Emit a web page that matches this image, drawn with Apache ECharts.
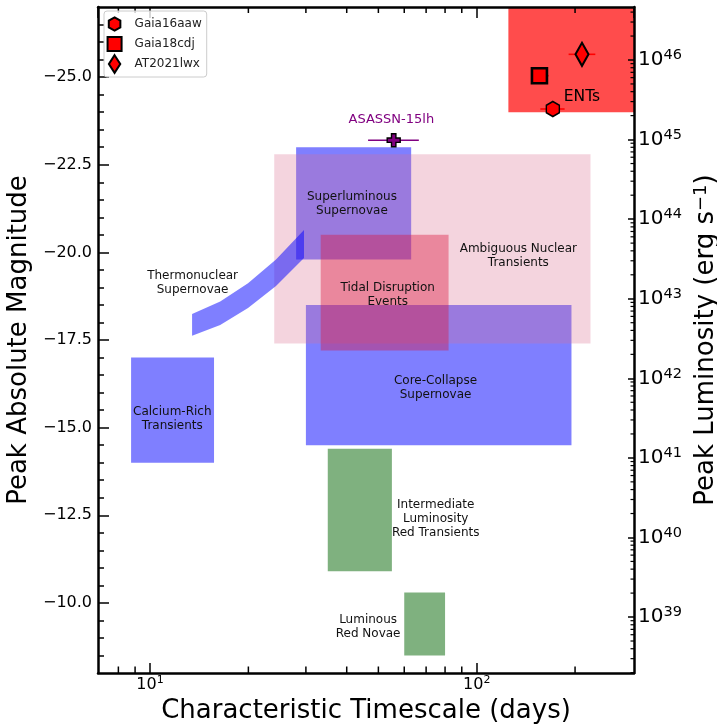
<!DOCTYPE html>
<html><head><meta charset="utf-8">
<script src="https://cdn.jsdelivr.net/npm/echarts@6/dist/echarts.min.js"></script>
<style>html,body{margin:0;padding:0;background:#fff}#c{width:717px;height:728px}</style>
</head><body><div id="c"></div>
<script>
// ---------------- data ----------------
// rectangular regions (characteristic timescale in days, peak absolute magnitude)
const regionNames = ['Calcium-Rich Transients', 'Superluminous Supernovae', 'Core-Collapse Supernovae',
  'Ambiguous Nuclear Transients', 'Tidal Disruption Events', 'Intermediate Luminosity Red Transients',
  'Luminous Red Novae', 'ENTs'];
const regionTimeMin = [8.75, 28, 30, 24, 33.3, 35, 60, 125];
const regionTimeMax = [15.7, 63, 195, 223, 82, 55, 80, 303];
const regionMagBright = [-17.0, -23.0, -18.5, -22.8, -20.5, -14.4, -10.3, -27.0];
const regionMagFaint = [-14.0, -19.8, -14.5, -17.4, -17.2, -10.9, -8.5, -24.0];

// thermonuclear supernovae band
const snIaTime = [13.45, 16.4, 19.95, 24.3, 29.6];
const snIaMagBright = [-18.24, -18.60, -19.12, -19.80, -20.64];
const snIaMagFaint = [-17.62, -17.93, -18.41, -19.04, -19.84];

// region labels
const labelTexts = ['Calcium-Rich\nTransients', 'Superluminous\nSupernovae', 'Core-Collapse\nSupernovae',
  'Ambiguous Nuclear\nTransients', 'Thermonuclear\nSupernovae', 'Tidal Disruption\nEvents',
  'Intermediate\nLuminosity\nRed Transients', 'Luminous\nRed Novae'];
const labelTime = [11.7, 41.5, 74.8, 134.1, 13.5, 53.4, 74.9, 46.5];
const labelMag = [-15.25, -21.38, -16.13, -19.90, -19.13, -18.80, -12.40, -9.33];

// ENT objects
const objectNames = ['Gaia16aaw', 'Gaia18cdj', 'AT2021lwx'];
const objectTime = [171.0, 155.6, 210.0];
const objectTimeLow = [156.6, 147.7, 191.1];
const objectTimeHigh = [185.8, 166.0, 230.7];
const objectMag = [-24.09, -25.04, -25.65];

// ASASSN-15lh
const asassnName = 'ASASSN-15lh';
const asassnTime = [55.7];
const asassnTimeLow = [46.5];
const asassnTimeHigh = [66.5];
const asassnMag = [-23.2];

// axis ticks
const magTickLabels = [-25, -22.5, -20, -17.5, -15, -12.5, -10];
const magMinorTicks = [];
for (let m = -26.5; m <= -8.5 + 1e-9; m += 0.5) magMinorTicks.push(+m.toFixed(1));
const timeMinorTicks = [8, 9, 20, 30, 40, 50, 60, 70, 80, 90, 200];
const lumMinorTicks = [];
for (let e = 38; e <= 46; e++) for (let k = 2; k <= 9; k++) lumMinorTicks.push(k * Math.pow(10, e));

// ---------------- chart ----------------
const FONT = 'DejaVu Sans';
const chart = echarts.init(document.getElementById('c'), null, {renderer: 'canvas'});

const regionColors = {
  'Calcium-Rich Transients': 'rgba(0,0,255,0.5)',
  'Superluminous Supernovae': 'rgba(0,0,255,0.5)',
  'Core-Collapse Supernovae': 'rgba(0,0,255,0.5)',
  'Ambiguous Nuclear Transients': 'rgba(219,112,147,0.3)',
  'Tidal Disruption Events': 'rgba(220,20,60,0.4)',
  'Intermediate Luminosity Red Transients': 'rgba(0,100,0,0.5)',
  'Luminous Red Novae': 'rgba(0,100,0,0.5)',
  'ENTs': 'rgba(255,0,0,0.7)'
};

function rectSeries(i) {
  return {
    type: 'custom', name: regionNames[i], silent: true, clip: false,
    xAxisIndex: 0, yAxisIndex: 0,
    encode: {x: [0, 1], y: [2, 3]},
    data: [[regionTimeMin[i], regionTimeMax[i], regionMagBright[i], regionMagFaint[i]]],
    renderItem: function (params, api) {
      const p0 = api.coord([api.value(0), api.value(2)]);
      const p1 = api.coord([api.value(1), api.value(3)]);
      const cs = params.coordSys;
      const shape = echarts.graphic.clipRectByRect(
        {x: Math.min(p0[0], p1[0]), y: Math.min(p0[1], p1[1]),
         width: Math.abs(p1[0] - p0[0]), height: Math.abs(p1[1] - p0[1])},
        {x: cs.x, y: cs.y, width: cs.width, height: cs.height});
      return shape && {type: 'rect', shape: shape, style: {fill: regionColors[regionNames[i]]}};
    }
  };
}

const bandSeries = {
  type: 'custom', name: 'Thermonuclear Supernovae', silent: true, clip: false,
  xAxisIndex: 0, yAxisIndex: 0,
  encode: {x: 0, y: [1, 2]},
  data: snIaTime.map((t, i) => [t, snIaMagBright[i], snIaMagFaint[i]]),
  renderItem: function (params, api) {
    if (params.dataIndex !== 0) return null;
    const pts = [];
    for (let i = 0; i < snIaTime.length; i++) pts.push(api.coord([snIaTime[i], snIaMagBright[i]]));
    for (let i = snIaTime.length - 1; i >= 0; i--) pts.push(api.coord([snIaTime[i], snIaMagFaint[i]]));
    return {type: 'polygon', shape: {points: pts}, style: {fill: 'rgba(0,0,255,0.5)'}};
  }
};

function errorBarSeries(low, high, mag, color) {
  return {
    type: 'custom', silent: true, clip: false, xAxisIndex: 0, yAxisIndex: 0,
    encode: {x: [0, 1], y: 2},
    data: low.map((l, i) => [l, high[i], mag[i]]),
    renderItem: function (params, api) {
      const a = api.coord([api.value(0), api.value(2)]);
      const b = api.coord([api.value(1), api.value(2)]);
      return {type: 'line', shape: {x1: a[0], y1: a[1], x2: b[0], y2: b[1]},
        style: {stroke: color, lineWidth: 1.6}};
    }
  };
}

const hexPath = 'path://M0,-10L8.66,-5L8.66,5L0,10L-8.66,5L-8.66,-5Z';
const sqPath = 'path://M-5,-5L5,-5L5,5L-5,5Z';
const diaPath = 'path://M0,-10L5.6,0L0,10L-5.6,0Z';
const plusPath = 'path://M-2.2,-6.5L2.2,-6.5L2.2,-2.2L6.5,-2.2L6.5,2.2L2.2,2.2L2.2,6.5L-2.2,6.5L-2.2,2.2L-6.5,2.2L-6.5,-2.2L-2.2,-2.2Z';
const objSymbols = [hexPath, sqPath, diaPath];
const objSizes = [[13, 15], [15, 15], [13, 23]];
const objBorders = [1.5, 2.6, 2.2];
// legend icons padded into a common frame (0..16 x 0..19)
const legendIcons = [
  'path://M0,0L0,0M16,19L16,19M8,2.5L14.1,6L14.1,13L8,16.5L1.9,13L1.9,6Z',
  'path://M0,0L0,0M16,19L16,19M0.6,2L15.4,2L15.4,17L0.6,17Z',
  'path://M0,0L0,0M16,19L16,19M8,0.2L14,9.5L8,18.8L2,9.5Z'
];

function textSeries(texts, times, mags, color, size) {
  return {
    type: 'custom', silent: true, clip: false, xAxisIndex: 0, yAxisIndex: 0,
    encode: {x: 0, y: 1},
    data: times.map((t, i) => [t, mags[i]]),
    renderItem: function (params, api) {
      const p = api.coord([api.value(0), api.value(1)]);
      return {type: 'text', x: p[0], y: p[1], style: {
        text: texts[params.dataIndex], fill: color, fontFamily: FONT, fontSize: size,
        align: 'center', verticalAlign: 'middle', lineHeight: Math.round(size * 1.15)}};
    }
  };
}

const xMinorSeries = {
  type: 'custom', silent: true, clip: false, xAxisIndex: 0, yAxisIndex: 0, z: 20,
  encode: {x: 0, y: 1},
  data: timeMinorTicks.map(v => [v, -20]),
  renderItem: function (params, api) {
    const x = api.coord([api.value(0), -20])[0];
    const cs = params.coordSys;
    const b = cs.y + cs.height, t = cs.y;
    return {type: 'group', children: [
      {type: 'line', shape: {x1: x, y1: b, x2: x, y2: b - 6.5}, style: {stroke: '#000', lineWidth: 1.5}},
      {type: 'line', shape: {x1: x, y1: t, x2: x, y2: t + 6}, style: {stroke: '#000', lineWidth: 1.5}}
    ]};
  }
};

const lumMinorSeries = {
  type: 'custom', silent: true, clip: false, xAxisIndex: 0, yAxisIndex: 1, z: 20,
  encode: {x: 0, y: 1},
  data: lumMinorTicks.map(v => [10, v]),
  renderItem: function (params, api) {
    const cs = params.coordSys;
    const y = api.coord([10, api.value(1)])[1];
    if (y < cs.y - 0.5 || y > cs.y + cs.height + 0.5) return null;
    const r = cs.x + cs.width;
    return {type: 'line', shape: {x1: r, y1: y, x2: r - 3.5, y2: y}, style: {stroke: '#000', lineWidth: 1.2}};
  }
};

function isPow10(v) { const e = Math.log10(v); return Math.abs(e - Math.round(e)) < 1e-6; }

const series = [
  rectSeries(0), rectSeries(1), rectSeries(2),
  rectSeries(3),
  bandSeries,
  rectSeries(4),
  rectSeries(5), rectSeries(6),
  rectSeries(7),
  errorBarSeries(objectTimeLow, objectTimeHigh, objectMag, 'red'),
  errorBarSeries(asassnTimeLow, asassnTimeHigh, asassnMag, 'purple')
];
objectNames.forEach((n, i) => {
  series.push({
    type: 'scatter', name: n, xAxisIndex: 0, yAxisIndex: 0,
    data: [[objectTime[i], objectMag[i]]],
    symbol: objSymbols[i], symbolSize: objSizes[i], symbolKeepAspect: false,
    itemStyle: {color: 'red', borderColor: '#000', borderWidth: objBorders[i], opacity: 1}
  });
});
series.push({
  type: 'scatter', name: asassnName, xAxisIndex: 0, yAxisIndex: 0,
  data: [[asassnTime[0], asassnMag[0]]],
  symbol: plusPath, symbolSize: 13,
  itemStyle: {color: 'purple', borderColor: '#000', borderWidth: 1.4, opacity: 1}
});
series.push(textSeries(labelTexts, labelTime, labelMag, '#111', 12));
series.push(textSeries(['ENTs'], [210], [-24.44], '#000', 15.5));
series.push(textSeries([asassnName], [54.8], [-23.80], 'purple', 13));
series.push(xMinorSeries, lumMinorSeries);

const option = {
  animation: false,
  backgroundColor: '#fff',
  textStyle: {fontFamily: FONT},
  grid: {left: 98, right: 83, top: 7, bottom: 55, containLabel: false, outerBoundsMode: 'none'},
  legend: {
    data: objectNames.map((n, i) => ({name: n, icon: legendIcons[i]})),
    orient: 'vertical', left: 104, top: 11,
    itemWidth: 30, itemHeight: 18, itemGap: 0,
    padding: [3, 5, 3, 2],
    borderColor: '#cccccc', borderWidth: 1, borderRadius: 3,
    backgroundColor: 'rgba(255,255,255,0.8)',
    textStyle: {fontFamily: FONT, fontSize: 12, color: '#222'},
    selectedMode: false, z: 30
  },
  xAxis: [
    {
      type: 'log', logBase: 10, min: 6.93, max: 303, position: 'bottom', z: 10,
      name: 'Characteristic Timescale (days)', nameLocation: 'middle', nameGap: 24,
      nameTextStyle: {fontFamily: FONT, fontSize: 26, color: '#000'},
      axisLine: {show: true, lineStyle: {color: '#000', width: 2.5}},
      axisTick: {show: true, inside: true, length: 10, lineStyle: {color: '#000', width: 1.5}},
      minorTick: {show: false}, splitLine: {show: false},
      axisLabel: {
        margin: 2, showMinLabel: false, showMaxLabel: false,
        formatter: v => isPow10(v) ? '{b|10}{s|' + Math.round(Math.log10(v)) + '}' : '',
        rich: {
          b: {fontFamily: FONT, fontSize: 16, color: '#000', lineHeight: 20},
          s: {fontFamily: FONT, fontSize: 11, color: '#000', lineHeight: 10, verticalAlign: 'top'}
        }
      }
    },
    {
      type: 'log', logBase: 10, min: 6.93, max: 303, position: 'top', z: 10,
      axisLine: {show: true, lineStyle: {color: '#000', width: 2.5}},
      axisTick: {show: true, inside: true, length: 11, lineStyle: {color: '#000', width: 1.5}},
      axisLabel: {show: false}, splitLine: {show: false}
    }
  ],
  yAxis: [
    {
      type: 'value', inverse: true, min: -27, max: -8, position: 'left', z: 10,
      name: 'Peak Absolute Magnitude', nameLocation: 'middle', nameRotate: 90, nameGap: 53,
      nameTextStyle: {fontFamily: FONT, fontSize: 26, color: '#000'},
      axisLine: {show: true, lineStyle: {color: '#000', width: 2.5}},
      axisTick: {show: true, inside: true, length: 11, customValues: magTickLabels,
        lineStyle: {color: '#000', width: 1.5}},
      axisLabel: {customValues: magTickLabels, margin: 6, fontFamily: FONT, fontSize: 16, color: '#000',
        formatter: v => (v < 0 ? '\u2212' : '') + Math.abs(v).toFixed(1)},
      splitLine: {show: false}
    },
    {
      type: 'log', logBase: 10, min: Math.pow(10, 38.297), max: Math.pow(10, 46.666), position: 'right', z: 10,
      name: 'Peak Luminosity (erg s{s|\u22121})', nameLocation: 'middle', nameRotate: 90, nameGap: 56,
      nameTextStyle: {fontFamily: FONT, fontSize: 26, color: '#000',
        rich: {s: {fontFamily: FONT, fontSize: 18, color: '#000', verticalAlign: 'top', lineHeight: 14}}},
      axisLine: {show: true, lineStyle: {color: '#000', width: 2.5}},
      axisTick: {show: true, inside: true, length: 6, lineStyle: {color: '#000', width: 1.5}},
      splitLine: {show: false},
      axisLabel: {
        margin: 4, showMinLabel: false, showMaxLabel: false,
        formatter: v => isPow10(v) ? '{b|10}{s|' + Math.round(Math.log10(v)) + '}' : '',
        rich: {
          b: {fontFamily: FONT, fontSize: 20, color: '#000', lineHeight: 24},
          s: {fontFamily: FONT, fontSize: 14.5, color: '#000', lineHeight: 12, verticalAlign: 'top'}
        }
      }
    },
    {
      type: 'value', inverse: true, min: -27, max: -8, position: 'left', z: 10,
      axisLine: {show: false},
      axisTick: {show: true, inside: true, length: 6, customValues: magMinorTicks,
        lineStyle: {color: '#000', width: 1.5}},
      axisLabel: {show: false}, splitLine: {show: false}
    }
  ],
  series: series
};
chart.setOption(option);
</script>
</body></html>
